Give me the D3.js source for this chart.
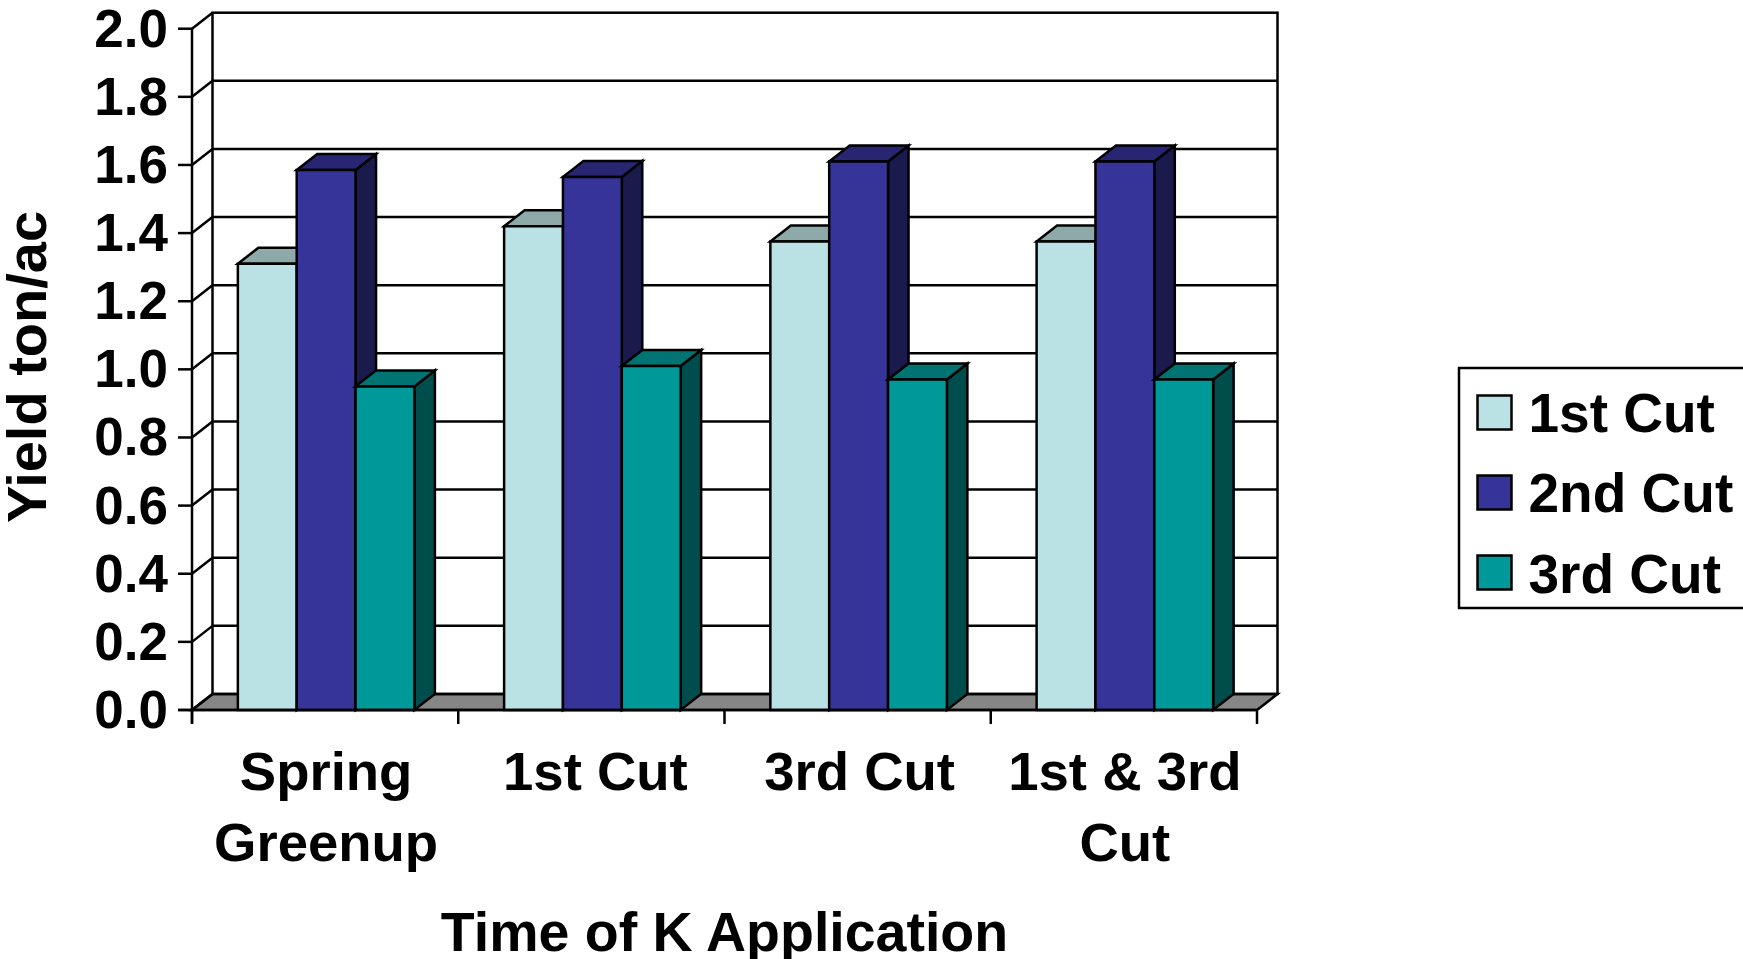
<!DOCTYPE html>
<html><head><meta charset="utf-8">
<script src="https://d3js.org/d3.v7.min.js"></script>
<style>html,body{margin:0;padding:0;background:#fff;overflow:hidden}svg{display:block}text{font-family:"Liberation Sans",Arial,sans-serif;font-weight:700;fill:#000}</style>
</head><body><svg id="c" width="1743" height="959"></svg>
<script>
const categories = [["Spring","Greenup"],["1st Cut"],["3rd Cut"],["1st & 3rd","Cut"]];
const seriesNames = ["1st Cut","2nd Cut","3rd Cut"];
const cut1 = [1.31,1.42,1.375,1.375];
const cut2 = [1.585,1.565,1.61,1.61];
const cut3 = [0.95,1.01,0.97,0.97];
const yTicks = [0,0.2,0.4,0.6,0.8,1.0,1.2,1.4,1.6,1.8,2.0];
const fronts = ["#BAE1E3","#363399","#009999"];
const tops = ["#8DA9AA","#282673","#007373"];
const sides = ["#5D7172","#1B1A4D","#004D4D"];
const series = [cut1,cut2,cut3];
const labelShift = [0,3,1,0];
const svg = d3.select("#c");
const L=192,R=1257,B=710,dx=20.5,dy=-16;
const y = d3.scaleLinear().domain([0,2]).range([B,28.7]);
const x0 = d3.scaleBand().domain(d3.range(categories.length)).range([L+1,R+1]).paddingInner(0.337).paddingOuter(0.1685);
const x1 = d3.scaleBand().domain(d3.range(3)).range([0,x0.bandwidth()]);
const line=(x1_,y1_,x2_,y2_,w=2.5,c="#000")=>svg.append("line").attr("x1",x1_).attr("y1",y1_).attr("x2",x2_).attr("y2",y2_).attr("stroke",c).attr("stroke-width",w);
const poly=(pts,fill,w=2.5)=>svg.append("polygon").attr("points",pts.map(p=>p.join(",")).join(" ")).attr("fill",fill).attr("stroke","#000").attr("stroke-width",w).attr("stroke-linejoin","miter");
// floor
poly([[L,B],[L+dx,B+dy],[R+dx,B+dy],[R,B]],"#868686");
// walls and gridlines
yTicks.slice(1,-1).forEach(t=>line(L+dx,y(t)+dy,R+dx,y(t)+dy,2.5));
svg.append("rect").attr("x",L+dx).attr("y",y(2)+dy).attr("width",R-L).attr("height",y(0)-y(2)).attr("fill","none").attr("stroke","#000").attr("stroke-width",2.5);
line(L,y(2),L,B+13,2.5);
yTicks.forEach(t=>{
  line(L-14,y(t),L,y(t));
  line(L,y(t),L+dx,y(t)+dy);
  svg.append("text").attr("x",L-24).attr("y",y(t)+18).attr("text-anchor","end").attr("font-size",53).text(t.toFixed(1));
});
// bars
categories.forEach((c,i)=>{
  series.forEach((s,k)=>{
    const a=x0(i)+x1(k),b=a+x1.bandwidth(),t=y(s[i]);
    poly([[b,t],[b+dx,t+dy],[b+dx,B+dy],[b,B]],sides[k]);
    poly([[a,t],[a+dx,t+dy],[b+dx,t+dy],[b,t]],tops[k]);
    poly([[a,t],[b,t],[b,B],[a,B]],fronts[k]);
  });
});
line(L-14,B,R,B);
// x ticks
const step=(R-L)/categories.length;
d3.range(categories.length+1).forEach(i=>line(L+i*step,B,L+i*step,B+14));
// category labels
categories.forEach((c,i)=>{
  const cx=x0(i)+x0.bandwidth()/2+labelShift[i];
  c.forEach((t,j)=>svg.append("text").attr("x",cx).attr("y",789.5+j*71).attr("text-anchor","middle").attr("font-size",54.5).text(t));
});
svg.append("text").attr("x",724.5).attr("y",951).attr("text-anchor","middle").attr("font-size",55.5).text("Time of K Application");
svg.append("text").attr("transform","translate(46,367) rotate(-90)").attr("text-anchor","middle").attr("font-size",56).text("Yield ton/ac");
// legend
svg.append("rect").attr("x",1459).attr("y",368).attr("width",320).attr("height",240).attr("fill","#fff").attr("stroke","#000").attr("stroke-width",2.5);
seriesNames.forEach((n,i)=>{
  svg.append("rect").attr("x",1477.5).attr("y",395.5+i*80).attr("width",34).attr("height",34).attr("fill",fronts[i]).attr("stroke","#000").attr("stroke-width",2.5);
  svg.append("text").attr("x",1528.5).attr("y",432+i*80.3).attr("font-size",55).text(n);
});
</script></body></html>
